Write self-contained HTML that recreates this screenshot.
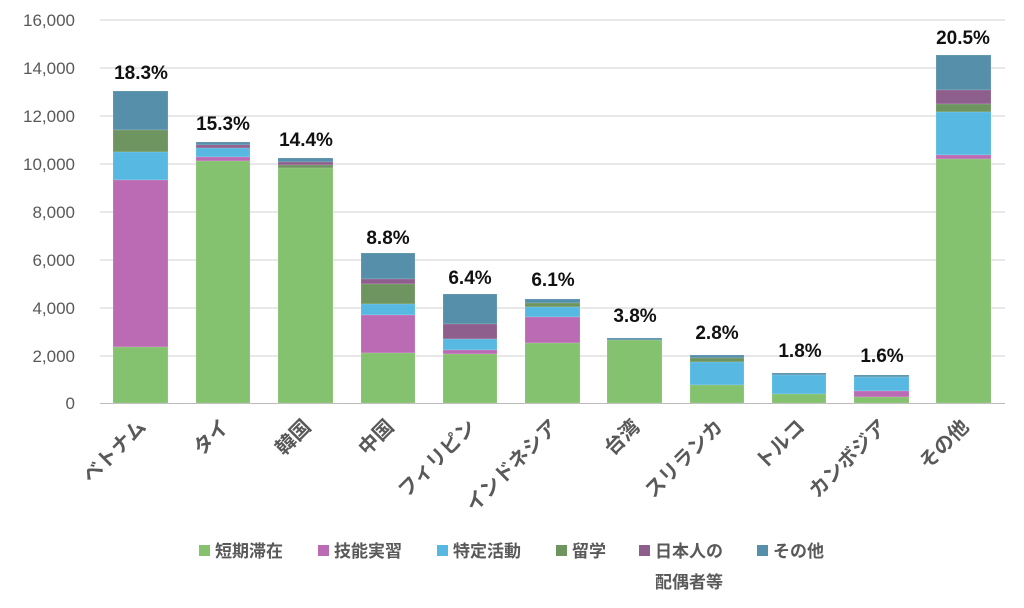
<!DOCTYPE html>
<html><head><meta charset="utf-8"><style>
body{margin:0;background:#fff}
svg{display:block;font-family:"Liberation Sans","Noto Sans CJK JP",sans-serif}
</style></head><body>
<svg width="1024" height="608" viewBox="0 0 1024 608">
<g stroke="#d0d0d0" stroke-width="1">
<line x1="100" x2="1005" y1="20" y2="20"/><line x1="100" x2="1005" y1="68" y2="68"/>
<line x1="100" x2="1005" y1="116" y2="116"/><line x1="100" x2="1005" y1="164" y2="164"/>
<line x1="100" x2="1005" y1="212" y2="212"/><line x1="100" x2="1005" y1="260" y2="260"/>
<line x1="100" x2="1005" y1="308" y2="308"/><line x1="100" x2="1005" y1="356" y2="356"/>
<line x1="100" x2="1005" y1="403.5" y2="403.5" stroke="#bbb"/>
</g>
<g font-size="17" fill="#595959" text-anchor="end">
<text x="75" y="26">16,000</text><text x="75" y="74">14,000</text><text x="75" y="122">12,000</text>
<text x="75" y="170">10,000</text><text x="75" y="218">8,000</text><text x="75" y="266">6,000</text>
<text x="75" y="314">4,000</text><text x="75" y="362">2,000</text><text x="75" y="409">0</text>
</g>
<g stroke="#fff" stroke-opacity="0.3" stroke-width="0.5">
<rect x="113" y="91" width="55" height="39" fill="#558fa9"/>
<rect x="113" y="130" width="55" height="22" fill="#6e9560"/>
<rect x="113" y="152" width="55" height="28" fill="#57b9e1"/>
<rect x="113" y="180" width="55" height="167" fill="#bb6bb3"/>
<rect x="113" y="347" width="55" height="56" fill="#84c26f"/>
<rect x="196" y="142" width="54" height="3" fill="#558fa9"/>
<rect x="196" y="145" width="54" height="3" fill="#8e5e8c"/>
<rect x="196" y="148" width="54" height="9" fill="#57b9e1"/>
<rect x="196" y="157" width="54" height="4" fill="#bb6bb3"/>
<rect x="196" y="161" width="54" height="242" fill="#84c26f"/>
<rect x="278" y="158" width="55" height="4" fill="#558fa9"/>
<rect x="278" y="162" width="55" height="3" fill="#8e5e8c"/>
<rect x="278" y="165" width="55" height="3" fill="#6e9560"/>
<rect x="278" y="168" width="55" height="235" fill="#84c26f"/>
<rect x="361" y="253" width="54" height="26" fill="#558fa9"/>
<rect x="361" y="279" width="54" height="5" fill="#8e5e8c"/>
<rect x="361" y="284" width="54" height="20" fill="#6e9560"/>
<rect x="361" y="304" width="54" height="11" fill="#57b9e1"/>
<rect x="361" y="315" width="54" height="38" fill="#bb6bb3"/>
<rect x="361" y="353" width="54" height="50" fill="#84c26f"/>
<rect x="443" y="294" width="54" height="30" fill="#558fa9"/>
<rect x="443" y="324" width="54" height="15" fill="#8e5e8c"/>
<rect x="443" y="339" width="54" height="11" fill="#57b9e1"/>
<rect x="443" y="350" width="54" height="4" fill="#bb6bb3"/>
<rect x="443" y="354" width="54" height="49" fill="#84c26f"/>
<rect x="525" y="299" width="55" height="4" fill="#558fa9"/>
<rect x="525" y="303" width="55" height="4" fill="#6e9560"/>
<rect x="525" y="307" width="55" height="10" fill="#57b9e1"/>
<rect x="525" y="317" width="55" height="26" fill="#bb6bb3"/>
<rect x="525" y="343" width="55" height="60" fill="#84c26f"/>
<rect x="607" y="338" width="55" height="2" fill="#558fa9"/>
<rect x="607" y="340" width="55" height="63" fill="#84c26f"/>
<rect x="690" y="355" width="54" height="3" fill="#558fa9"/>
<rect x="690" y="358" width="54" height="4" fill="#6e9560"/>
<rect x="690" y="362" width="54" height="23" fill="#57b9e1"/>
<rect x="690" y="385" width="54" height="18" fill="#84c26f"/>
<rect x="772" y="373" width="54" height="2" fill="#558fa9"/>
<rect x="772" y="375" width="54" height="19" fill="#57b9e1"/>
<rect x="772" y="394" width="54" height="9" fill="#84c26f"/>
<rect x="854" y="375" width="55" height="2" fill="#558fa9"/>
<rect x="854" y="377" width="55" height="14" fill="#57b9e1"/>
<rect x="854" y="391" width="55" height="6" fill="#bb6bb3"/>
<rect x="854" y="397" width="55" height="6" fill="#84c26f"/>
<rect x="936" y="55" width="55" height="35" fill="#558fa9"/>
<rect x="936" y="90" width="55" height="14" fill="#8e5e8c"/>
<rect x="936" y="104" width="55" height="8" fill="#6e9560"/>
<rect x="936" y="112" width="55" height="43" fill="#57b9e1"/>
<rect x="936" y="155" width="55" height="4" fill="#bb6bb3"/>
<rect x="936" y="159" width="55" height="244" fill="#84c26f"/>
</g>
<g font-size="19" font-weight="bold" fill="#111" text-anchor="middle">
<text x="141" y="79">18.3%</text><text x="223" y="130">15.3%</text><text x="306" y="146">14.4%</text>
<text x="388" y="244">8.8%</text><text x="470" y="284">6.4%</text><text x="553" y="286">6.1%</text>
<text x="635" y="322">3.8%</text><text x="717" y="339">2.8%</text><text x="800" y="357">1.8%</text>
<text x="882" y="362">1.6%</text><text x="963" y="44">20.5%</text>
</g>
<g font-size="20" font-weight="bold" fill="#595959" text-anchor="end">
<text transform="translate(147,428) rotate(-45)">ベトナム</text>
<text transform="translate(230,428) rotate(-45)">タイ</text>
<text transform="translate(312,428) rotate(-45)">韓国</text>
<text transform="translate(395,428) rotate(-45)">中国</text>
<text transform="translate(477,428) rotate(-45)">フィリピン</text>
<text transform="translate(559,428) rotate(-45)">インドネシア</text>
<text transform="translate(641,428) rotate(-45)">台湾</text>
<text transform="translate(724,428) rotate(-45)">スリランカ</text>
<text transform="translate(806,428) rotate(-45)">トルコ</text>
<text transform="translate(888,428) rotate(-45)">カンボジア</text>
<text transform="translate(970,428) rotate(-45)">その他</text>
</g>
<g font-size="17" font-weight="bold" fill="#595959">
<rect x="199" y="545" width="11" height="11" fill="#84c26f"/><text x="215" y="557">短期滞在</text>
<rect x="318" y="545" width="11" height="11" fill="#bb6bb3"/><text x="334" y="557">技能実習</text>
<rect x="437" y="545" width="11" height="11" fill="#57b9e1"/><text x="453" y="557">特定活動</text>
<rect x="556" y="545" width="11" height="11" fill="#6e9560"/><text x="572" y="557">留学</text>
<rect x="639" y="545" width="11" height="11" fill="#8e5e8c"/><text x="655" y="557">日本人の</text>
<text x="655" y="588">配偶者等</text>
<rect x="757" y="545" width="11" height="11" fill="#558fa9"/><text x="773" y="557">その他</text>
</g>
</svg>
</body></html>
